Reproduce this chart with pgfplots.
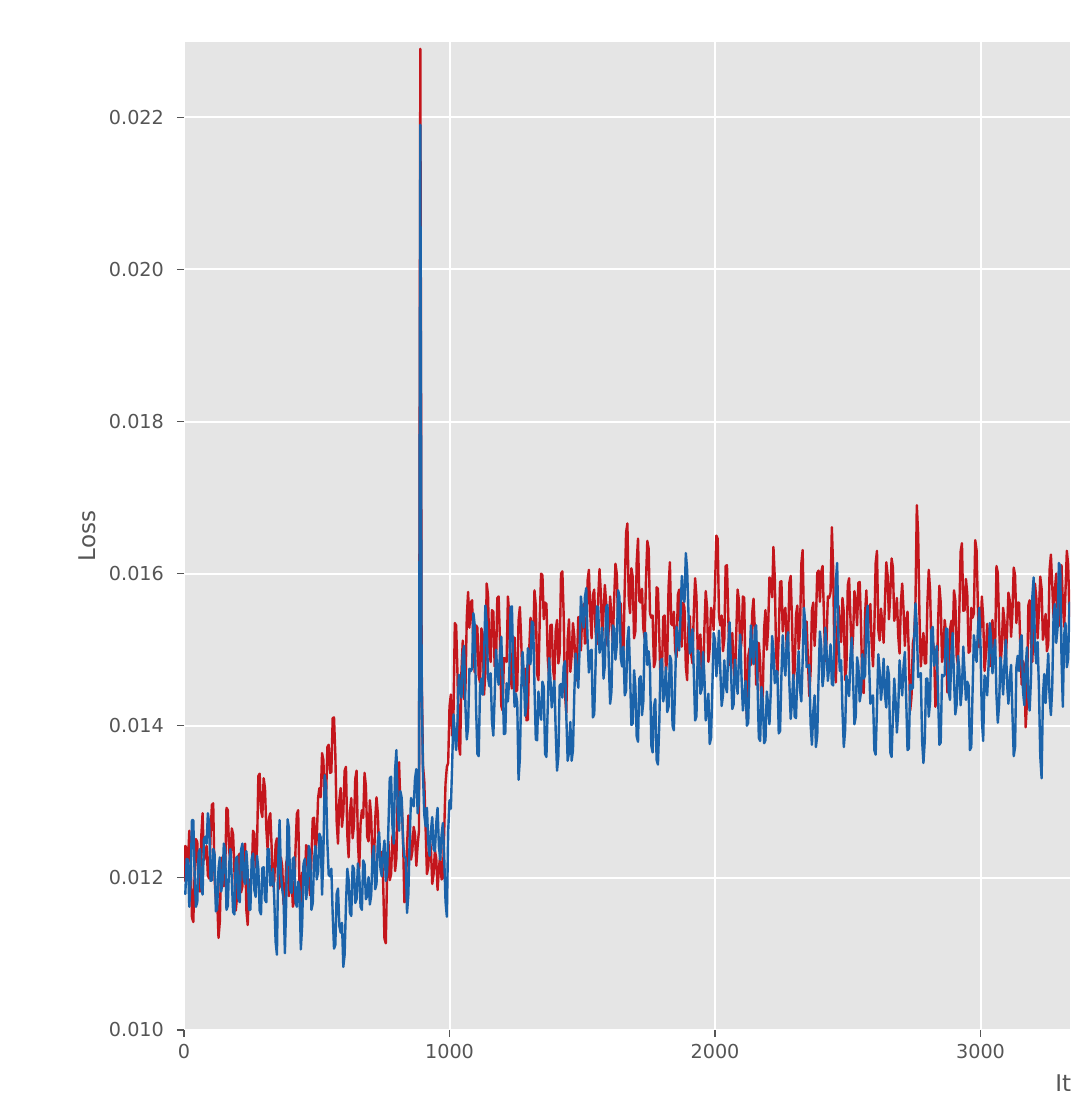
\documentclass[border=0pt]{standalone}
\usepackage{fontspec}
\setmainfont{DejaVu Sans}
\usepackage{pgfplots}
\usepackage{pgfplotstable}
\pgfplotsset{compat=1.18}

\definecolor{bggray}{HTML}{E5E5E5}
\definecolor{tickgray}{HTML}{555555}
\definecolor{lossred}{RGB}{196,22,28}
\definecolor{lossblue}{RGB}{27,99,170}

% iteration, red loss, blue loss
\pgfplotstableread{
it red blue
0 0.01195 0.01182
5 0.01242 0.01179
10 0.01238 0.01225
15 0.01220 0.01224
20 0.01262 0.01162
25 0.01225 0.01199
30 0.01148 0.01276
35 0.01142 0.01276
40 0.01205 0.01205
45 0.01251 0.01162
50 0.01247 0.01168
55 0.01185 0.01233
60 0.01182 0.01238
65 0.01254 0.01188
70 0.01285 0.01178
75 0.01223 0.01251
80 0.01231 0.01254
85 0.01242 0.01245
90 0.01203 0.01285
95 0.01199 0.01271
100 0.01254 0.01196
105 0.01296 0.01197
110 0.01298 0.01238
115 0.01200 0.01232
120 0.01172 0.01156
125 0.01172 0.01159
130 0.01121 0.01212
135 0.01143 0.01227
140 0.01225 0.01182
145 0.01227 0.01194
150 0.01189 0.01245
155 0.01206 0.01237
160 0.01292 0.01158
165 0.01289 0.01163
170 0.01236 0.01218
175 0.01221 0.01238
180 0.01265 0.01198
185 0.01257 0.01155
190 0.01208 0.01152
195 0.01157 0.01225
200 0.01176 0.01228
205 0.01229 0.01173
210 0.01232 0.01168
215 0.01181 0.01237
220 0.01189 0.01245
225 0.01237 0.01199
230 0.01245 0.01192
235 0.01157 0.01235
240 0.01138 0.01208
245 0.01193 0.01158
250 0.01198 0.01158
255 0.01200 0.01225
260 0.01262 0.01232
265 0.01258 0.01184
270 0.01214 0.01175
275 0.01239 0.01229
280 0.01334 0.01212
285 0.01337 0.01157
290 0.01289 0.01152
295 0.01280 0.01213
300 0.01331 0.01214
305 0.01318 0.01171
310 0.01265 0.01168
315 0.01237 0.01238
320 0.01278 0.01238
325 0.01285 0.01190
330 0.01241 0.01192
335 0.01189 0.01212
340 0.01196 0.01172
345 0.01244 0.01116
350 0.01252 0.01099
355 0.01185 0.01223
360 0.01188 0.01276
365 0.01227 0.01206
370 0.01215 0.01185
375 0.01165 0.01173
380 0.01174 0.01101
385 0.01220 0.01169
390 0.01226 0.01277
395 0.01176 0.01266
400 0.01195 0.01185
405 0.01204 0.01180
410 0.01162 0.01225
415 0.01170 0.01227
420 0.01238 0.01168
425 0.01284 0.01162
430 0.01289 0.01195
435 0.01189 0.01186
440 0.01158 0.01106
445 0.01207 0.01137
450 0.01206 0.01218
455 0.01195 0.01225
460 0.01243 0.01172
465 0.01240 0.01187
470 0.01196 0.01242
475 0.01177 0.01235
480 0.01227 0.01158
485 0.01278 0.01167
490 0.01279 0.01225
495 0.01235 0.01242
500 0.01251 0.01198
505 0.01305 0.01208
510 0.01318 0.01258
515 0.01306 0.01253
520 0.01364 0.01178
525 0.01355 0.01232
530 0.01296 0.01335
535 0.01304 0.01321
540 0.01372 0.01246
545 0.01375 0.01204
550 0.01338 0.01202
555 0.01339 0.01212
560 0.01410 0.01152
565 0.01411 0.01107
570 0.01362 0.01112
575 0.01274 0.01179
580 0.01245 0.01186
585 0.01302 0.01137
590 0.01318 0.01128
595 0.01267 0.01141
600 0.01286 0.01083
605 0.01341 0.01099
610 0.01346 0.01165
615 0.01257 0.01212
620 0.01227 0.01198
625 0.01286 0.01154
630 0.01305 0.01150
635 0.01252 0.01216
640 0.01268 0.01212
645 0.01330 0.01167
650 0.01341 0.01172
655 0.01247 0.01219
660 0.01212 0.01205
665 0.01271 0.01162
670 0.01289 0.01158
675 0.01279 0.01223
680 0.01338 0.01218
685 0.01321 0.01172
690 0.01254 0.01176
695 0.01248 0.01201
700 0.01302 0.01165
705 0.01280 0.01177
710 0.01218 0.01228
715 0.01212 0.01242
720 0.01276 0.01185
725 0.01306 0.01192
730 0.01285 0.01248
735 0.01229 0.01260
740 0.01232 0.01212
745 0.01234 0.01202
750 0.01196 0.01232
755 0.01120 0.01249
760 0.01114 0.01196
765 0.01206 0.01207
770 0.01248 0.01268
775 0.01197 0.01331
780 0.01205 0.01333
785 0.01254 0.01269
790 0.01262 0.01245
795 0.01209 0.01342
800 0.01226 0.01368
805 0.01314 0.01290
810 0.01352 0.01262
815 0.01295 0.01314
820 0.01297 0.01305
825 0.01253 0.01247
830 0.01168 0.01228
835 0.01170 0.01226
840 0.01241 0.01154
845 0.01282 0.01178
850 0.01272 0.01252
855 0.01224 0.01305
860 0.01235 0.01298
865 0.01267 0.01294
870 0.01258 0.01330
875 0.01216 0.01343
880 0.01243 0.01285
885 0.01262 0.01302
890 0.02290 0.02190
895 0.01480 0.01460
900 0.01348 0.01338
905 0.01327 0.01283
910 0.01265 0.01268
915 0.01205 0.01292
920 0.01214 0.01245
925 0.01251 0.01229
930 0.01238 0.01262
935 0.01192 0.01280
940 0.01205 0.01238
945 0.01236 0.01235
950 0.01226 0.01272
955 0.01184 0.01292
960 0.01212 0.01242
965 0.01230 0.01224
970 0.01198 0.01256
975 0.01200 0.01272
980 0.01262 0.01228
985 0.01324 0.01169
990 0.01346 0.01149
995 0.01351 0.01261
1000 0.01425 0.01302
1005 0.01441 0.01291
1010 0.01387 0.01350
1015 0.01416 0.01415
1020 0.01535 0.01390
1025 0.01532 0.01368
1030 0.01468 0.01405
1035 0.01375 0.01467
1040 0.01362 0.01448
1045 0.01472 0.01437
1050 0.01512 0.01495
1055 0.01435 0.01505
1060 0.01448 0.01425
1065 0.01542 0.01382
1070 0.01576 0.01398
1075 0.01529 0.01475
1080 0.01562 0.01472
1085 0.01565 0.01475
1090 0.01498 0.01548
1095 0.01470 0.01532
1100 0.01532 0.01425
1105 0.01529 0.01363
1110 0.01465 0.01360
1115 0.01457 0.01451
1120 0.01528 0.01462
1125 0.01520 0.01441
1130 0.01441 0.01490
1135 0.01469 0.01558
1140 0.01587 0.01535
1145 0.01572 0.01464
1150 0.01496 0.01452
1155 0.01484 0.01469
1160 0.01552 0.01405
1165 0.01550 0.01387
1170 0.01478 0.01438
1175 0.01478 0.01500
1180 0.01568 0.01472
1185 0.01570 0.01454
1190 0.01512 0.01495
1195 0.01426 0.01517
1200 0.01420 0.01458
1205 0.01489 0.01389
1210 0.01488 0.01390
1215 0.01484 0.01456
1220 0.01570 0.01432
1225 0.01546 0.01464
1230 0.01462 0.01556
1235 0.01449 0.01557
1240 0.01516 0.01478
1245 0.01516 0.01425
1250 0.01445 0.01442
1255 0.01447 0.01431
1260 0.01538 0.01329
1265 0.01556 0.01357
1270 0.01513 0.01445
1275 0.01453 0.01497
1280 0.01472 0.01468
1285 0.01475 0.01413
1290 0.01407 0.01428
1295 0.01408 0.01502
1300 0.01498 0.01485
1305 0.01542 0.01481
1310 0.01525 0.01537
1315 0.01512 0.01535
1320 0.01578 0.01452
1325 0.01558 0.01382
1330 0.01468 0.01381
1335 0.01460 0.01445
1340 0.01542 0.01418
1345 0.01600 0.01408
1350 0.01598 0.01458
1355 0.01540 0.01451
1360 0.01562 0.01363
1365 0.01560 0.01359
1370 0.01488 0.01425
1375 0.01465 0.01489
1380 0.01532 0.01462
1385 0.01533 0.01424
1390 0.01474 0.01445
1395 0.01460 0.01459
1400 0.01526 0.01392
1405 0.01539 0.01341
1410 0.01482 0.01360
1415 0.01496 0.01453
1420 0.01600 0.01455
1425 0.01603 0.01437
1430 0.01545 0.01478
1435 0.01441 0.01485
1440 0.01417 0.01412
1445 0.01514 0.01354
1450 0.01540 0.01365
1455 0.01471 0.01405
1460 0.01492 0.01354
1465 0.01535 0.01368
1470 0.01518 0.01442
1475 0.01459 0.01495
1480 0.01480 0.01468
1485 0.01543 0.01450
1490 0.01535 0.01502
1495 0.01499 0.01570
1500 0.01552 0.01548
1505 0.01560 0.01529
1510 0.01508 0.01569
1515 0.01510 0.01581
1520 0.01591 0.01512
1525 0.01605 0.01470
1530 0.01548 0.01498
1535 0.01515 0.01500
1540 0.01572 0.01411
1545 0.01579 0.01415
1550 0.01525 0.01478
1555 0.01507 0.01557
1560 0.01568 0.01556
1565 0.01606 0.01496
1570 0.01574 0.01505
1575 0.01516 0.01529
1580 0.01548 0.01462
1585 0.01585 0.01479
1590 0.01562 0.01556
1595 0.01505 0.01559
1600 0.01528 0.01482
1605 0.01570 0.01429
1610 0.01542 0.01445
1615 0.01509 0.01532
1620 0.01565 0.01528
1625 0.01613 0.01487
1630 0.01600 0.01506
1635 0.01536 0.01578
1640 0.01552 0.01570
1645 0.01561 0.01489
1650 0.01500 0.01478
1655 0.01496 0.01504
1660 0.01582 0.01440
1665 0.01654 0.01446
1670 0.01666 0.01512
1675 0.01567 0.01530
1680 0.01548 0.01468
1685 0.01607 0.01401
1690 0.01596 0.01403
1695 0.01515 0.01473
1700 0.01524 0.01452
1705 0.01615 0.01386
1710 0.01646 0.01379
1715 0.01564 0.01462
1720 0.01562 0.01465
1725 0.01580 0.01414
1730 0.01528 0.01432
1735 0.01515 0.01522
1740 0.01592 0.01522
1745 0.01643 0.01480
1750 0.01633 0.01498
1755 0.01548 0.01476
1760 0.01542 0.01374
1765 0.01545 0.01365
1770 0.01477 0.01425
1775 0.01485 0.01435
1780 0.01582 0.01355
1785 0.01580 0.01349
1790 0.01518 0.01402
1795 0.01454 0.01485
1800 0.01470 0.01488
1805 0.01543 0.01432
1810 0.01545 0.01445
1815 0.01472 0.01477
1820 0.01488 0.01418
1825 0.01582 0.01425
1830 0.01615 0.01492
1835 0.01534 0.01486
1840 0.01532 0.01400
1845 0.01550 0.01394
1850 0.01498 0.01458
1855 0.01490 0.01530
1860 0.01572 0.01512
1865 0.01579 0.01499
1870 0.01525 0.01545
1875 0.01504 0.01597
1880 0.01562 0.01568
1885 0.01555 0.01563
1890 0.01478 0.01627
1895 0.01460 0.01605
1900 0.01532 0.01548
1905 0.01544 0.01495
1910 0.01495 0.01502
1915 0.01482 0.01527
1920 0.01548 0.01472
1925 0.01594 0.01407
1930 0.01570 0.01412
1935 0.01496 0.01499
1940 0.01512 0.01495
1945 0.01520 0.01442
1950 0.01468 0.01448
1955 0.01458 0.01497
1960 0.01528 0.01465
1965 0.01577 0.01407
1970 0.01556 0.01418
1975 0.01484 0.01442
1980 0.01502 0.01376
1985 0.01555 0.01384
1990 0.01548 0.01452
1995 0.01526 0.01522
2000 0.01584 0.01512
2005 0.01650 0.01465
2010 0.01646 0.01488
2015 0.01544 0.01525
2020 0.01532 0.01472
2025 0.01545 0.01426
2030 0.01498 0.01440
2035 0.01514 0.01486
2040 0.01610 0.01452
2045 0.01611 0.01444
2050 0.01542 0.01506
2055 0.01480 0.01536
2060 0.01508 0.01475
2065 0.01522 0.01422
2070 0.01476 0.01428
2075 0.01459 0.01487
2080 0.01522 0.01465
2085 0.01579 0.01442
2090 0.01565 0.01488
2095 0.01494 0.01520
2100 0.01512 0.01462
2105 0.01570 0.01420
2110 0.01568 0.01438
2115 0.01449 0.01459
2120 0.01410 0.01400
2125 0.01491 0.01404
2130 0.01502 0.01478
2135 0.01480 0.01532
2140 0.01548 0.01495
2145 0.01567 0.01481
2150 0.01526 0.01526
2155 0.01454 0.01532
2160 0.01462 0.01458
2165 0.01509 0.01384
2170 0.01485 0.01380
2175 0.01419 0.01451
2180 0.01443 0.01432
2185 0.01528 0.01377
2190 0.01552 0.01381
2195 0.01500 0.01445
2200 0.01528 0.01428
2205 0.01595 0.01402
2210 0.01592 0.01445
2215 0.01569 0.01518
2220 0.01635 0.01500
2225 0.01595 0.01456
2230 0.01495 0.01472
2235 0.01467 0.01471
2240 0.01518 0.01390
2245 0.01589 0.01393
2250 0.01590 0.01465
2255 0.01524 0.01519
2260 0.01548 0.01482
2265 0.01555 0.01466
2270 0.01502 0.01510
2275 0.01505 0.01523
2280 0.01588 0.01455
2285 0.01597 0.01409
2290 0.01536 0.01432
2295 0.01460 0.01467
2300 0.01473 0.01412
2305 0.01546 0.01410
2310 0.01558 0.01468
2315 0.01501 0.01498
2320 0.01524 0.01448
2325 0.01613 0.01432
2330 0.01631 0.01485
2335 0.01535 0.01555
2340 0.01528 0.01535
2345 0.01537 0.01477
2350 0.01485 0.01478
2355 0.01439 0.01480
2360 0.01472 0.01402
2365 0.01552 0.01375
2370 0.01562 0.01418
2375 0.01505 0.01440
2380 0.01538 0.01372
2385 0.01601 0.01387
2390 0.01604 0.01462
2395 0.01563 0.01524
2400 0.01602 0.01505
2405 0.01610 0.01452
2410 0.01548 0.01468
2415 0.01485 0.01529
2420 0.01512 0.01500
2425 0.01570 0.01459
2430 0.01568 0.01478
2435 0.01575 0.01507
2440 0.01661 0.01455
2445 0.01606 0.01453
2450 0.01480 0.01520
2455 0.01457 0.01590
2460 0.01524 0.01614
2465 0.01558 0.01513
2470 0.01532 0.01472
2475 0.01510 0.01486
2480 0.01568 0.01420
2485 0.01549 0.01372
2490 0.01460 0.01394
2495 0.01478 0.01466
2500 0.01585 0.01448
2505 0.01594 0.01439
2510 0.01542 0.01490
2515 0.01490 0.01516
2520 0.01518 0.01462
2525 0.01577 0.01402
2530 0.01565 0.01412
2535 0.01532 0.01490
2540 0.01588 0.01478
2545 0.01589 0.01432
2550 0.01530 0.01445
2555 0.01447 0.01494
2560 0.01443 0.01462
2565 0.01546 0.01466
2570 0.01578 0.01540
2575 0.01520 0.01558
2580 0.01552 0.01485
2585 0.01560 0.01429
2590 0.01508 0.01432
2595 0.01478 0.01440
2600 0.01528 0.01368
2605 0.01614 0.01362
2610 0.01630 0.01425
2615 0.01526 0.01494
2620 0.01512 0.01472
2625 0.01554 0.01434
2630 0.01535 0.01455
2635 0.01509 0.01488
2640 0.01562 0.01440
2645 0.01615 0.01424
2650 0.01598 0.01478
2655 0.01540 0.01467
2660 0.01572 0.01365
2665 0.01620 0.01359
2670 0.01608 0.01412
2675 0.01538 0.01462
2680 0.01548 0.01432
2685 0.01568 0.01391
2690 0.01518 0.01420
2695 0.01495 0.01486
2700 0.01562 0.01462
2705 0.01587 0.01440
2710 0.01552 0.01478
2715 0.01505 0.01497
2720 0.01538 0.01435
2725 0.01550 0.01368
2730 0.01492 0.01370
2735 0.01420 0.01454
2740 0.01438 0.01448
2745 0.01508 0.01450
2750 0.01518 0.01512
2755 0.01564 0.01561
2760 0.01690 0.01530
2765 0.01652 0.01464
2770 0.01544 0.01468
2775 0.01478 0.01469
2780 0.01502 0.01380
2785 0.01522 0.01351
2790 0.01482 0.01381
2795 0.01482 0.01462
2800 0.01562 0.01462
2805 0.01605 0.01412
2810 0.01578 0.01432
2815 0.01500 0.01526
2820 0.01512 0.01530
2825 0.01499 0.01479
2830 0.01425 0.01488
2835 0.01440 0.01505
2840 0.01535 0.01442
2845 0.01584 0.01375
2850 0.01562 0.01378
2855 0.01484 0.01467
2860 0.01496 0.01465
2865 0.01539 0.01467
2870 0.01522 0.01528
2875 0.01444 0.01527
2880 0.01445 0.01445
2885 0.01527 0.01434
2890 0.01538 0.01492
2895 0.01513 0.01522
2900 0.01578 0.01462
2905 0.01565 0.01415
2910 0.01492 0.01428
2915 0.01480 0.01492
2920 0.01548 0.01475
2925 0.01629 0.01427
2930 0.01640 0.01448
2935 0.01551 0.01504
2940 0.01552 0.01470
2945 0.01593 0.01434
2950 0.01574 0.01458
2955 0.01496 0.01453
2960 0.01498 0.01368
2965 0.01555 0.01372
2970 0.01542 0.01445
2975 0.01548 0.01519
2980 0.01644 0.01502
2985 0.01631 0.01484
2990 0.01558 0.01525
2995 0.01503 0.01555
3000 0.01528 0.01505
3005 0.01570 0.01408
3010 0.01542 0.01380
3015 0.01472 0.01466
3020 0.01492 0.01462
3025 0.01534 0.01440
3030 0.01515 0.01478
3035 0.01478 0.01535
3040 0.01520 0.01512
3045 0.01539 0.01469
3050 0.01488 0.01495
3055 0.01504 0.01513
3060 0.01610 0.01440
3065 0.01601 0.01404
3070 0.01532 0.01428
3075 0.01477 0.01490
3080 0.01502 0.01472
3085 0.01555 0.01441
3090 0.01538 0.01480
3095 0.01486 0.01513
3100 0.01524 0.01455
3105 0.01575 0.01429
3110 0.01565 0.01462
3115 0.01517 0.01480
3120 0.01548 0.01418
3125 0.01608 0.01360
3130 0.01598 0.01372
3135 0.01535 0.01477
3140 0.01562 0.01492
3145 0.01562 0.01472
3150 0.01502 0.01512
3155 0.01454 0.01519
3160 0.01485 0.01445
3165 0.01477 0.01427
3170 0.01398 0.01478
3175 0.01433 0.01503
3180 0.01558 0.01438
3185 0.01565 0.01420
3190 0.01512 0.01462
3195 0.01484 0.01569
3200 0.01535 0.01595
3205 0.01587 0.01504
3210 0.01568 0.01482
3215 0.01515 0.01510
3220 0.01552 0.01448
3225 0.01596 0.01360
3230 0.01580 0.01331
3235 0.01513 0.01440
3240 0.01526 0.01468
3245 0.01547 0.01430
3250 0.01498 0.01462
3255 0.01507 0.01495
3260 0.01605 0.01438
3265 0.01625 0.01414
3270 0.01585 0.01450
3275 0.01542 0.01545
3280 0.01578 0.01560
3285 0.01600 0.01509
3290 0.01552 0.01528
3295 0.01531 0.01614
3300 0.01600 0.01610
3305 0.01611 0.01488
3310 0.01562 0.01425
3315 0.01530 0.01520
3320 0.01578 0.01535
3325 0.01630 0.01477
3330 0.01612 0.01488
3335 0.01544 0.01562
3340 0.01565 0.01545
}\losstable

\begin{document}
\begin{tikzpicture}
\begin{axis}[
    scale only axis,
    width=443pt,
    height=494pt,
    xmin=0, xmax=3337,
    ymin=0.010, ymax=0.02299,
    axis background/.style={fill=bggray},
    axis line style={draw=none},
    grid=major,
    major grid style={white, line width=1pt},
    xtick={0,1000,2000,3000},
    ytick={0.010,0.012,0.014,0.016,0.018,0.020,0.022},
    tick align=outside,
    tick pos=left,
    major tick length=3.5pt,
    tick style={tickgray, line width=0.6pt},
    ticklabel style={font=\fontsize{9.6}{11}\selectfont, text=tickgray},
    /pgf/number format/assume math mode=true,
    xticklabel style={/pgf/number format/set thousands separator={}},
    yticklabel style={xshift=-3pt, /pgf/number format/.cd, fixed, fixed zerofill, precision=3},
    scaled y ticks=false,
    ylabel={Loss},
    ylabel style={at={(rel axis cs:0,0.5)}, anchor=center, yshift=48.5pt,
        font=\fontsize{11.5}{13}\selectfont, text=tickgray},
    xlabel={Iterations},
    xlabel style={at={(rel axis cs:1,0)}, anchor=west, inner sep=0pt,
        xshift=-7.5pt, yshift=-26.5pt,
        font=\fontsize{11.5}{13}\selectfont, text=tickgray},
    clip=true,
]
\addplot[lossred, line width=1.2pt, line join=round] table[x=it, y=red] {\losstable};
\addplot[lossblue, line width=1.2pt, line join=round] table[x=it, y=blue] {\losstable};
\coordinate (bl) at (rel axis cs:0,0);
\coordinate (tr) at (rel axis cs:1,1);
\end{axis}
\pgfresetboundingbox
\path[use as bounding box] ([xshift=-92pt,yshift=-41pt]bl) rectangle ([yshift=21pt]tr);
\end{tikzpicture}
\end{document}
